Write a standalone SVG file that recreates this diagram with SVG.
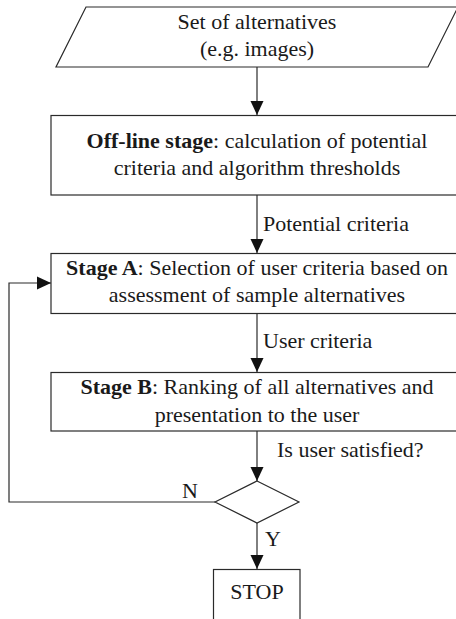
<svg xmlns="http://www.w3.org/2000/svg" width="456" height="619" viewBox="0 0 456 619">
  <style>
    .shape { fill: #fff; stroke: #2a2a2a; stroke-width: 1.2; }
    .line { fill: none; stroke: #2a2a2a; stroke-width: 1.2; }
    text { font-family: 'Liberation Serif', 'DejaVu Serif', serif; font-size: 22px; fill: #1a1a1a; }
    .c { text-anchor: middle; }
    .b { font-weight: bold; }
  </style>
  <defs>
    <marker id="arrow" markerUnits="userSpaceOnUse" markerWidth="14" markerHeight="14" viewBox="0 0 14 14" refX="14" refY="7" orient="auto">
      <path d="M0,0.5 L14,7 L0,13.5 Z" fill="#111"/>
    </marker>
  </defs>

  <g id="connectors">
    <line class="line" x1="257" y1="67" x2="257" y2="115" marker-end="url(#arrow)"/>
    <line class="line" x1="257" y1="195" x2="257" y2="253" marker-end="url(#arrow)"/>
    <line class="line" x1="257" y1="313" x2="257" y2="372" marker-end="url(#arrow)"/>
    <line class="line" x1="257" y1="431" x2="257" y2="481" marker-end="url(#arrow)"/>
    <line class="line" x1="257" y1="523" x2="257" y2="569" marker-end="url(#arrow)"/>
    <polyline class="line" points="215,502 9,502 9,283 51,283" marker-end="url(#arrow)"/>
    <text x="263" y="231">Potential criteria</text>
    <text x="263" y="348">User criteria</text>
    <text x="277" y="457">Is user satisfied?</text>
    <text x="182" y="498">N</text>
    <text x="265" y="546">Y</text>
  </g>

  <g id="input">
    <polygon class="shape" points="86,7 458,7 428,67 56,67"/>
    <text class="c" x="257" y="29">Set of alternatives</text>
    <text class="c" x="257" y="56">(e.g. images)</text>
  </g>

  <g id="offline-stage">
    <rect class="shape" x="51" y="115.5" width="412" height="79.5"/>
    <text class="c" x="257" y="148"><tspan class="b">Off-line stage</tspan>: calculation of potential</text>
    <text class="c" x="257" y="175">criteria and algorithm thresholds</text>
  </g>

  <g id="stage-a">
    <rect class="shape" x="51" y="253.5" width="412" height="60"/>
    <text class="c" x="257" y="275"><tspan class="b">Stage A</tspan>: Selection of user criteria based on</text>
    <text class="c" x="257" y="302">assessment of sample alternatives</text>
  </g>

  <g id="stage-b">
    <rect class="shape" x="51" y="372.5" width="412" height="58.5"/>
    <text class="c" x="257" y="394"><tspan class="b">Stage B</tspan>: Ranking of all alternatives and</text>
    <text class="c" x="257" y="422">presentation to the user</text>
  </g>

  <g id="decision">
    <polygon class="shape" points="257,481 299,502 257,523 215,502"/>
  </g>

  <g id="stop">
    <rect class="shape" x="213.5" y="569.5" width="86.5" height="60"/>
    <text class="c" x="257" y="599">STOP</text>
  </g>
</svg>
